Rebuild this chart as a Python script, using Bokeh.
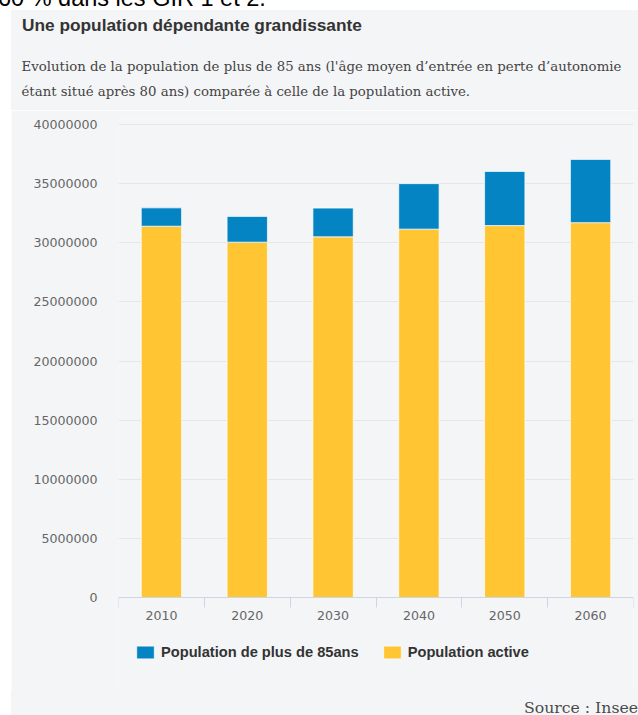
from bokeh.plotting import figure
from bokeh.models import (Range1d, FixedTicker, NumeralTickFormatter, Legend, LegendItem,
                          Div, Spacer, ColumnDataSource)
from bokeh.layouts import column, row
from bokeh.embed import file_html
from bokeh.resources import INLINE

# ---- data ----
years = ["2010", "2020", "2030", "2040", "2050", "2060"]
population_active = [31400000, 30050000, 30500000, 31150000, 31450000, 31700000]
population_85_plus = [1550000, 2180000, 2430000, 3850000, 4580000, 5350000]
y_ticks = [0, 5000000, 10000000, 15000000, 20000000, 25000000, 30000000, 35000000, 40000000]

title_text = "Une population dépendante grandissante"
subtitle_lines = [
    "Evolution de la population de plus de 85 ans (l'âge moyen d’entrée en perte d’autonomie",
    "étant situé après 80 ans) comparée à celle de la population active.",
]
source_text = "Source : Insee"
top_text = "60 % dans les GIR 1 et 2."
legend_labels = ["Population de plus de 85ans", "Population active"]

BG = "#f4f5f7"
BLUE = "#0584c3"
YELLOW = "#ffc532"
AXIS = "#ccd6eb"
GRID = "#e6e6e6"
LABEL = "#666666"

x_pos = [i + 0.5 for i in range(len(years))]
src = ColumnDataSource(dict(x=x_pos, active=population_active, over85=population_85_plus))

# frame: 473 px for 40M, 6 px headroom above, 93 px below zero for axis labels and legend
px_per_unit = 473 / 40000000
p = figure(width=627, height=580, output_backend="svg", toolbar_location=None, title=None,
           x_range=Range1d(0, len(years)),
           y_range=Range1d(-93 / px_per_unit, 40000000 + 6 / px_per_unit),
           min_border_left=107, min_border_right=5, min_border_top=8, min_border_bottom=0,
           background_fill_color=BG, border_fill_color=BG, outline_line_color=None)
p.margin = (0, 0, 0, 0)

rs = p.vbar_stack(["active", "over85"], x="x", width=0.47, source=src,
                  fill_color=[YELLOW, BLUE], line_color="white", line_width=1, line_alpha=0.7)

# x axis drawn at y = 0
xa = p.xaxis[0]
xa.fixed_location = 0
xa.ticker = FixedTicker(ticks=x_pos, minor_ticks=list(range(len(years) + 1)))
xa.major_label_overrides = {x: y for x, y in zip(x_pos, years)}
xa.major_tick_out = 0
xa.major_tick_in = 0
xa.minor_tick_out = 10
xa.minor_tick_in = 0
xa.minor_tick_line_color = AXIS
xa.axis_line_color = AXIS
xa.major_label_standoff = 3
xa.major_label_text_font = "DejaVu Sans"
xa.major_label_text_font_size = "12.6px"
xa.major_label_text_color = LABEL

# y axis
ya = p.yaxis[0]
ya.ticker = FixedTicker(ticks=y_ticks)
ya.formatter = NumeralTickFormatter(format="0")
ya.axis_line_color = None
ya.major_tick_line_color = None
ya.minor_tick_line_color = None
ya.major_tick_out = 0
ya.major_tick_in = 0
ya.major_label_standoff = 21
ya.major_label_text_font = "DejaVu Sans"
ya.major_label_text_font_size = "12.6px"
ya.major_label_text_color = LABEL

p.xgrid.visible = False
p.ygrid.ticker = FixedTicker(ticks=y_ticks)
p.ygrid.grid_line_color = GRID
p.ygrid.grid_line_width = 1

legend = Legend(items=[LegendItem(label=legend_labels[0], renderers=[rs[1]]),
                       LegendItem(label=legend_labels[1], renderers=[rs[0]])],
                location=(16, 30), orientation="horizontal", padding=0, margin=0, spacing=22,
                border_line_color=None, background_fill_alpha=0,
                glyph_width=22, glyph_height=16, label_height=13, label_standoff=5,
                label_text_font="Liberation Sans", label_text_font_style="bold",
                label_text_font_size="14.65px", label_text_color="#333333")
p.add_layout(legend)

top_div = Div(text=('<div style="position:relative; top:-13px; left:-2px; font-family:\'Liberation Sans\';'
                    ' font-size:23.5px; line-height:23.5px; white-space:nowrap; color:#000;">'
                    + top_text + '</div>'),
              width=638, height=10, margin=(0, 0, 0, 0),
              styles={"overflow": "hidden", "background": "white"})

header_html = (
    '<div style="position:relative; width:627px; height:100px; background:%s; overflow:hidden;">' % BG
    + '<div style="position:absolute; left:11px; top:7.4px; font-family:\'Liberation Sans\'; font-weight:bold;'
      ' font-size:17.3px; line-height:17.3px; white-space:nowrap; color:#333333;">' + title_text + '</div>'
    + '<div style="position:absolute; left:10.5px; top:50.3px; font-family:\'DejaVu Serif\';'
      ' font-size:13.3px; line-height:13.3px; white-space:nowrap; color:#444444;">' + subtitle_lines[0] + '</div>'
    + '<div style="position:absolute; left:10.5px; top:75.4px; font-family:\'DejaVu Serif\';'
      ' font-size:13.3px; line-height:13.3px; white-space:nowrap; color:#444444;">' + subtitle_lines[1] + '</div>'
    + '</div>'
)
header_div = Div(text=header_html, width=627, height=100, margin=(0, 0, 0, 0),
                 styles={"overflow": "hidden", "background": BG})

footer_html = (
    '<div style="position:relative; width:627px; height:25px; background:%s; overflow:hidden;">' % BG
    + '<div style="position:absolute; left:513px; top:10px; font-family:\'DejaVu Serif\';'
      ' font-size:15.7px; line-height:15.7px; white-space:nowrap; color:#4a4a4a;">' + source_text + '</div>'
    + '</div>'
)
footer_div = Div(text=footer_html, width=627, height=25, margin=(0, 0, 0, 0),
                 styles={"overflow": "hidden", "background": BG})

panel = column(header_div, p, footer_div, spacing=0, margin=(0, 0, 0, 0))
layout = column(top_div,
                row(Spacer(width=11, height=705, margin=(0, 0, 0, 0)), panel, spacing=0, margin=(0, 0, 0, 0)),
                spacing=0, margin=(0, 0, 0, 0))

open("out.html", "w").write(file_html(layout, INLINE))
